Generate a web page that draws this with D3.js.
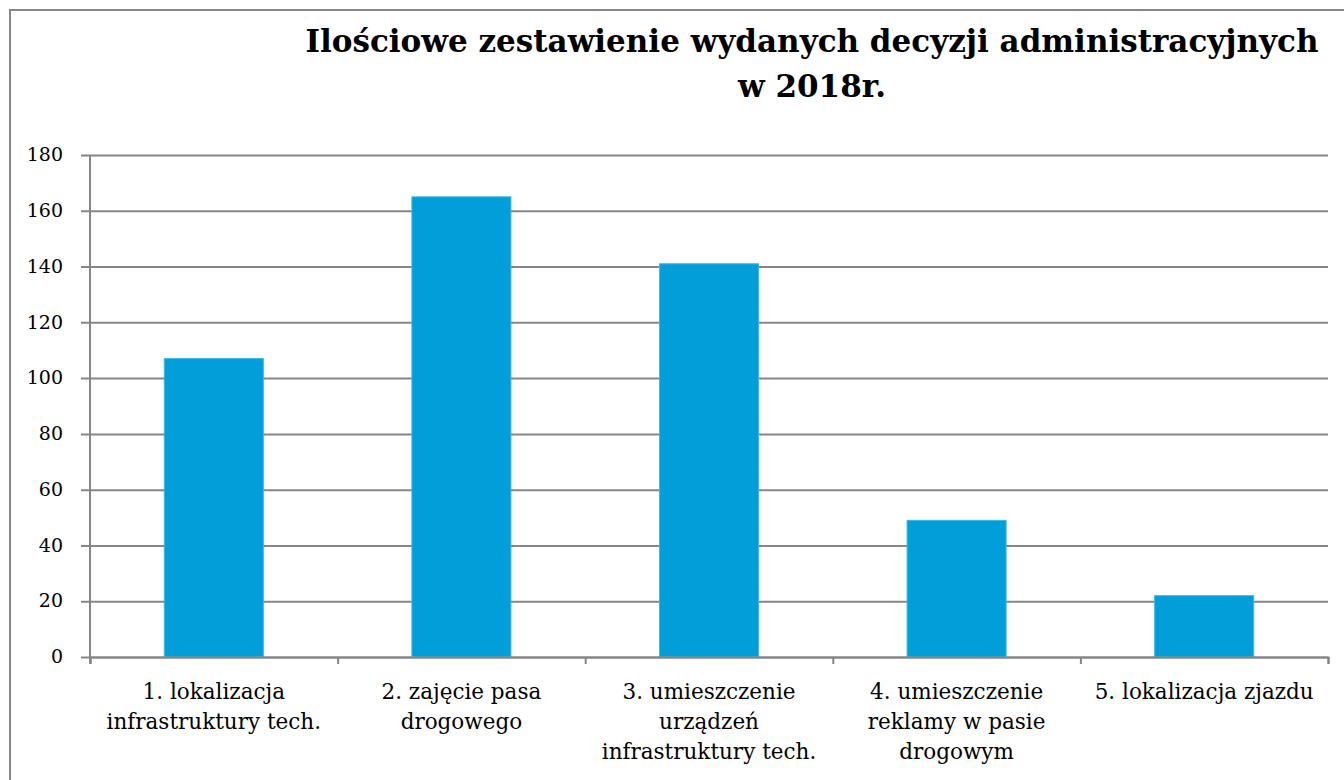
<!DOCTYPE html>
<html>
<head>
<meta charset="utf-8">
<script src="https://cdn.jsdelivr.net/npm/d3@7"></script>
<style>
  body { margin: 0; background: #fff; }
  .chart text { font-family: "DejaVu Serif", "Liberation Serif", serif; fill: #000; }
</style>
</head>
<body>
<svg class="chart"></svg>
<script>
const categories = [
  ["1. lokalizacja", "infrastruktury tech."],
  ["2. zajęcie pasa", "drogowego"],
  ["3. umieszczenie", "urządzeń", "infrastruktury tech."],
  ["4. umieszczenie", "reklamy w pasie", "drogowym"],
  ["5. lokalizacja zjazdu"]
];
const values = [107, 165, 141, 49, 22];
const yTicks = [0, 20, 40, 60, 80, 100, 120, 140, 160, 180];
const titleLines = ["Ilościowe zestawienie wydanych decyzji administracyjnych", "w 2018r."];

const width = 1344, height = 780;
const plot = { left: 90, right: 1328, top: 155, bottom: 657 };

const svg = d3.select(".chart").attr("width", width).attr("height", height);

// outer frame
svg.append("rect")
  .attr("x", 10).attr("y", 10)
  .attr("width", width).attr("height", height)
  .attr("fill", "#fff").attr("stroke", "#878787").attr("stroke-width", 2);

// title
svg.append("text")
  .attr("text-anchor", "middle")
  .attr("font-weight", "bold")
  .attr("font-size", 31)
  .selectAll("tspan").data(titleLines).join("tspan")
  .attr("x", 812)
  .attr("y", (d, i) => 52 + i * 45)
  .text(d => d);

const x = d3.scaleBand().domain(d3.range(values.length)).range([plot.left, plot.right]).paddingInner(0.6).paddingOuter(0.3);
const xTicks = d3.scaleLinear().domain([0, values.length]).range([plot.left, plot.right]);
const y = d3.scaleLinear().domain([0, 180]).range([plot.bottom, plot.top]);

// gridlines + y axis
const yAxis = svg.append("g")
  .attr("transform", `translate(${plot.left},0)`)
  .call(d3.axisLeft(y).tickValues(yTicks).tickSize(9).tickPadding(18));
yAxis.select(".domain").remove();
yAxis.selectAll(".tick line")
  .attr("x1", -9).attr("x2", plot.right - plot.left)
  .attr("stroke", "#868686").attr("stroke-width", 2);
yAxis.selectAll(".tick text").attr("font-size", 19).attr("dy", "0.3em");

// bars
svg.append("g").selectAll("rect").data(values).join("rect")
  .attr("x", (d, i) => x(i))
  .attr("y", d => y(d))
  .attr("width", x.bandwidth())
  .attr("height", d => y(0) - y(d))
  .attr("fill", "#029ed9")
  .attr("stroke", "#3bb8e6").attr("stroke-width", 1);

// y axis line
svg.append("line")
  .attr("x1", plot.left).attr("x2", plot.left)
  .attr("y1", plot.top).attr("y2", plot.bottom + 7)
  .attr("stroke", "#868686").attr("stroke-width", 2);

// x axis
const xAxis = svg.append("g")
  .attr("transform", `translate(0,${plot.bottom})`)
  .call(d3.axisBottom(xTicks).tickValues(d3.range(values.length + 1)).tickSize(7).tickFormat(""));
xAxis.select(".domain").attr("stroke", "#868686").attr("stroke-width", 2);
xAxis.selectAll(".tick line").attr("stroke", "#868686").attr("stroke-width", 2);

// category labels
svg.append("g").selectAll("text").data(categories).join("text")
  .attr("text-anchor", "middle")
  .attr("font-size", 21.5)
  .each(function(lines, i) {
    d3.select(this).selectAll("tspan").data(lines).join("tspan")
      .attr("x", x(i) + x.bandwidth() / 2)
      .attr("y", (d, j) => 699 + j * 30)
      .text(d => d);
  });
</script>
</body>
</html>
